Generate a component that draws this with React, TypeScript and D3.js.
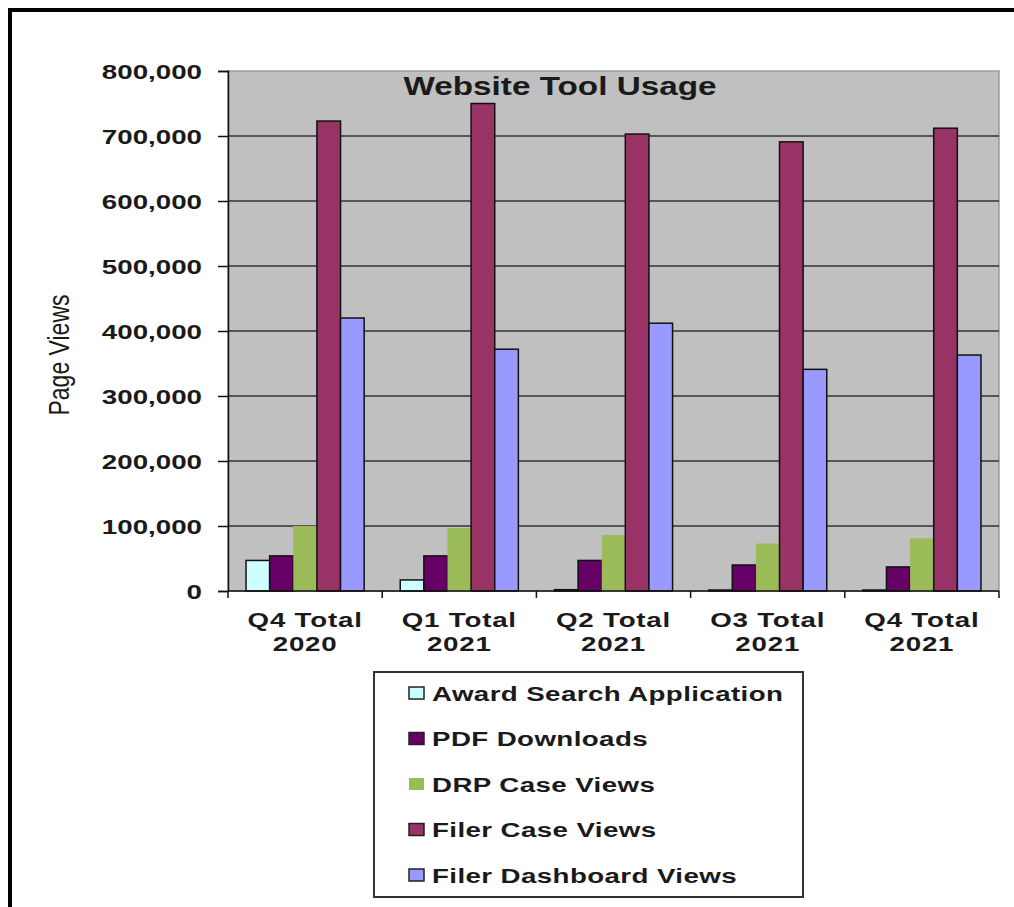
import * as d3 from "d3";
import React, { useRef, useEffect } from "react";

const categories = [["Q4 Total", "2020"], ["Q1 Total", "2021"], ["Q2 Total", "2021"], ["O3 Total", "2021"], ["Q4 Total", "2021"]];
const seriesNames = ["Award Search Application", "PDF Downloads", "DRP Case Views", "Filer Case Views", "Filer Dashboard Views"];
const seriesColors = ["#CCFFFF", "#660066", "#9BBB59", "#993366", "#9999FF"];
const seriesStroke = [true, true, false, true, true];

// one array per series, in category order
const awardSearch = [47000, 17000, 2000, 1500, 1500];
const pdfDownloads = [54000, 54000, 47000, 40000, 37000];
const drpCaseViews = [100000, 97000, 86000, 73000, 81000];
const filerCaseViews = [723000, 750000, 703000, 691000, 712000];
const filerDashboard = [420000, 372000, 412000, 341000, 363000];

const yTicks = [0, 100000, 200000, 300000, 400000, 500000, 600000, 700000, 800000];

const FONT = "'Liberation Sans', Arial, sans-serif";
const SX = 1.32; // text in the picture is stretched horizontally

const App = () => {
    const ref = useRef<HTMLDivElement>(null);

    useEffect(() => {
        const values = [awardSearch, pdfDownloads, drpCaseViews, filerCaseViews, filerDashboard];
        const width = 1014;
        const height = 907;
        const left = 228, right = 999, top = 71, bottom = 591;

        const svg = d3.create("svg")
            .attr("width", width)
            .attr("height", height)
            .style("position", "absolute")
            .style("left", "0px")
            .style("top", "0px")
            .style("background", "#fff");

        // outer frame (only left and top edges show)
        svg.append("rect").attr("x", 8).attr("y", 8).attr("width", 4).attr("height", height - 8).attr("fill", "#000");
        svg.append("rect").attr("x", 8).attr("y", 8).attr("width", width - 8).attr("height", 4).attr("fill", "#000");

        const x0 = d3.scaleBand<number>()
            .domain(d3.range(categories.length))
            .range([left, right]);

        const inner = x0.bandwidth() * 0.117;
        const x1 = d3.scaleBand<number>()
            .domain(d3.range(seriesNames.length))
            .range([inner, x0.bandwidth() - inner]);

        const y = d3.scaleLinear()
            .domain([0, 800000])
            .range([bottom, top]);

        // plot background
        svg.append("rect")
            .attr("x", left).attr("y", top)
            .attr("width", right - left).attr("height", bottom - top)
            .attr("fill", "#C0C0C0")
            .attr("stroke", "#9a9a9a")
            .attr("stroke-width", 1.5);

        // grid lines
        svg.append("g")
            .selectAll("line")
            .data(yTicks.filter(d => d > 0 && d < 800000))
            .join("line")
            .attr("x1", left).attr("x2", right)
            .attr("y1", d => y(d)).attr("y2", d => y(d))
            .attr("stroke", "#333")
            .attr("stroke-width", 1.5);

        // bars
        svg.append("g")
            .selectAll("g")
            .data(categories.map((c, i) => i))
            .join("g")
            .attr("transform", i => `translate(${x0(i)},0)`)
            .selectAll("rect")
            .data(i => values.map((v, s) => ({ s, v: v[i] })))
            .join("rect")
            .attr("x", d => x1(d.s)!)
            .attr("y", d => y(d.v))
            .attr("width", x1.bandwidth())
            .attr("height", d => y(0) - y(d.v))
            .attr("fill", d => seriesColors[d.s])
            .attr("stroke", d => seriesStroke[d.s] ? "#111" : "none")
            .attr("stroke-width", 1.5);

        // y axis
        svg.append("g")
            .attr("transform", `translate(${left},0)`)
            .call(d3.axisLeft(y).tickValues(yTicks).tickSize(10).tickFormat(d3.format(",")))
            .call(g => g.select(".domain").attr("stroke", "#111").attr("stroke-width", 1.5))
            .call(g => g.selectAll(".tick line").attr("stroke", "#111").attr("stroke-width", 1.5))
            .call(g => g.selectAll(".tick text")
                .attr("x", -26 / SX)
                .attr("dy", "0.36em")
                .attr("transform", `scale(${SX},1)`)
                .attr("font-family", FONT)
                .attr("font-weight", "bold")
                .attr("font-size", 21)
                .attr("fill", "#1a1a1a"));

        // x axis line and category ticks
        svg.append("line")
            .attr("x1", left).attr("x2", right)
            .attr("y1", bottom).attr("y2", bottom)
            .attr("stroke", "#111").attr("stroke-width", 1.5);
        svg.append("g")
            .selectAll("line")
            .data(d3.range(categories.length + 1))
            .join("line")
            .attr("x1", i => left + i * x0.bandwidth())
            .attr("x2", i => left + i * x0.bandwidth())
            .attr("y1", bottom).attr("y2", bottom + 7)
            .attr("stroke", "#111").attr("stroke-width", 1.5);

        // category labels
        const cat = svg.append("g")
            .selectAll("g")
            .data(categories.map((c, i) => i))
            .join("g")
            .attr("transform", i => `translate(${x0(i)! + x0.bandwidth() / 2},0) scale(${SX},1)`);
        [0, 1].forEach(line => {
            cat.append("text")
                .attr("y", 627 + line * 24)
                .attr("text-anchor", "middle")
                .attr("font-family", FONT)
                .attr("font-weight", "bold")
                .attr("font-size", 21)
                .attr("letter-spacing", 0.6)
                .attr("fill", "#1a1a1a")
                .text(i => categories[i][line]);
        });

        // title
        svg.append("text")
            .attr("transform", `translate(560,95) scale(${SX - 0.04},1)`)
            .attr("text-anchor", "middle")
            .attr("font-family", FONT)
            .attr("font-weight", "bold")
            .attr("font-size", 26)
            .attr("fill", "#1a1a1a")
            .text("Website Tool Usage");

        // y axis title
        svg.append("text")
            .attr("transform", `translate(58,355) scale(${SX},1) rotate(-90)`)
            .attr("text-anchor", "middle")
            .attr("dy", "0.35em")
            .attr("font-family", FONT)
            .attr("font-size", 23)
            .attr("fill", "#1a1a1a")
            .text("Page Views");

        // legend
        const legend = svg.append("g");
        legend.append("rect")
            .attr("x", 374).attr("y", 672)
            .attr("width", 429).attr("height", 225)
            .attr("fill", "#fff")
            .attr("stroke", "#333")
            .attr("stroke-width", 2);
        const rowY = d3.scaleLinear().domain([0, seriesNames.length - 1]).range([693, 875]);
        const item = legend.selectAll("g")
            .data(seriesNames.map((n, i) => i))
            .join("g")
            .attr("transform", i => `translate(0,${rowY(i)})`);
        item.append("rect")
            .attr("x", 409).attr("y", -6)
            .attr("width", 15).attr("height", 12)
            .attr("fill", i => seriesColors[i])
            .attr("stroke", i => seriesStroke[i] ? "#222" : "none")
            .attr("stroke-width", 1.5);
        item.append("text")
            .attr("transform", `translate(432,0) scale(${SX},1)`)
            .attr("dy", "0.36em")
            .attr("font-family", FONT)
            .attr("font-weight", "bold")
            .attr("font-size", 21)
            .attr("letter-spacing", 0.3)
            .attr("fill", "#1a1a1a")
            .text(i => seriesNames[i]);

        if (ref.current) {
            ref.current.innerHTML = "";
            ref.current.appendChild(svg.node()!);
        }
    }, []);

    return <div ref={ref}></div>;
};

export default App;
